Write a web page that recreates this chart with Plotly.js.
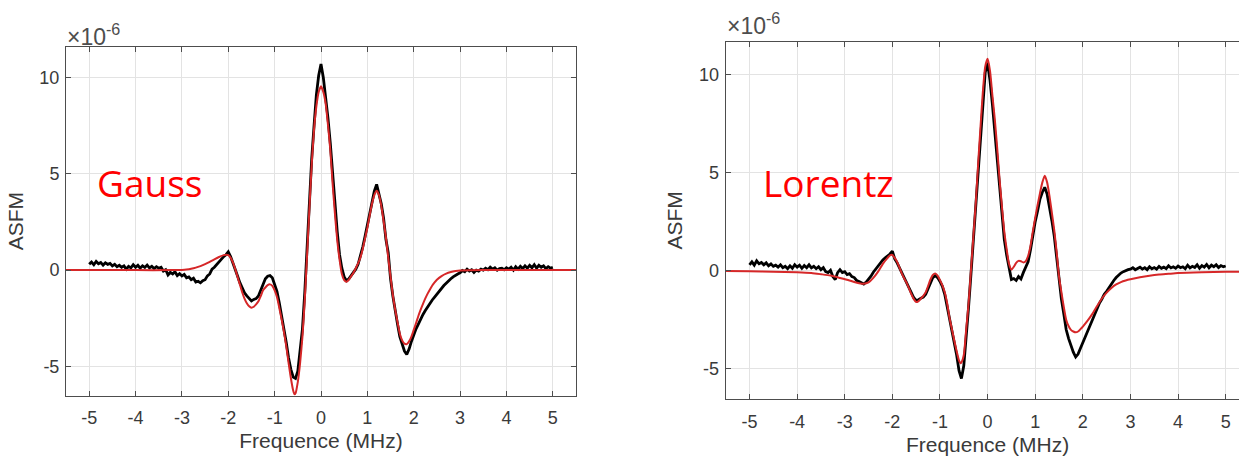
<!DOCTYPE html>
<html>
<head>
<meta charset="utf-8">
<script src="https://cdn.plot.ly/plotly-3.0.1.min.js"></script>
<style>
html, body { margin: 0; padding: 0; overflow: hidden; background: #ffffff; }
#chart { width: 1260px; height: 457px; }
</style>
</head>
<body>
<div id="chart"></div>
<script>
// ---------------- DATA ----------------
// Gauss panel: measured (black) trace, frequency in MHz, ASFM in units of 1e-6
const gaussMeasX = [
-5.00,-4.95,-4.90,-4.85,-4.80,-4.75,-4.70,-4.65,-4.60,-4.55,-4.50,-4.45,-4.40,-4.35,-4.30,-4.25,-4.20,-4.15,-4.10,-4.05,
-4.00,-3.95,-3.90,-3.85,-3.80,-3.75,-3.70,-3.65,-3.60,-3.55,-3.50,-3.45,-3.40,-3.35,-3.30,-3.25,-3.20,-3.15,-3.10,-3.05,
-3.00,-2.95,-2.90,-2.85,-2.80,-2.75,-2.70,-2.65,-2.60,-2.55,-2.50,-2.45,-2.40,-2.35,-2.30,-2.25,-2.20,-2.15,-2.10,-2.05,
-2.00,-1.95,-1.90,-1.85,-1.80,-1.75,-1.70,-1.65,-1.60,-1.55,-1.50,-1.45,-1.40,-1.35,-1.30,-1.25,-1.20,-1.15,-1.10,-1.05,
-1.00,-0.95,-0.90,-0.85,-0.80,-0.75,-0.70,-0.65,-0.60,-0.55,-0.50,-0.45,-0.40,-0.35,-0.30,-0.25,-0.20,-0.15,-0.10,-0.05,
0.00,0.05,0.10,0.15,0.20,0.25,0.30,0.35,0.40,0.45,0.50,0.55,0.60,0.65,0.70,0.75,0.80,0.85,0.90,0.95,
1.00,1.05,1.10,1.15,1.20,1.25,1.30,1.35,1.40,1.45,1.50,1.55,1.60,1.65,1.70,1.75,1.80,1.85,1.90,1.95,
2.00,2.05,2.10,2.15,2.20,2.25,2.30,2.35,2.40,2.45,2.50,2.55,2.60,2.65,2.70,2.75,2.80,2.85,2.90,2.95,
3.00,3.05,3.10,3.15,3.20,3.25,3.30,3.35,3.40,3.45,3.50,3.55,3.60,3.65,3.70,3.75,3.80,3.85,3.90,3.95,
4.00,4.05,4.10,4.15,4.20,4.25,4.30,4.35,4.40,4.45,4.50,4.55,4.60,4.65,4.70,4.75,4.80,4.85,4.90,4.95,5.00];
const gaussMeasY = [
0.30,0.42,0.28,0.45,0.33,0.40,0.26,0.38,0.30,0.35,0.22,0.30,0.18,0.25,0.15,0.22,0.05,0.20,0.12,0.28,
0.15,0.25,0.10,0.22,0.14,0.26,0.12,0.20,0.08,0.18,0.10,0.15,-0.05,0.02,-0.25,-0.12,-0.20,-0.08,-0.28,-0.18,
-0.30,-0.22,-0.40,-0.35,-0.50,-0.42,-0.62,-0.58,-0.66,-0.55,-0.50,-0.30,-0.20,0.05,0.15,0.30,0.45,0.55,0.70,0.80,
0.95,0.70,0.40,0.05,-0.30,-0.65,-0.95,-1.18,-1.34,-1.50,-1.60,-1.52,-1.48,-1.34,-1.05,-0.75,-0.45,-0.32,-0.28,-0.40,
-0.70,-1.10,-1.70,-2.35,-3.05,-3.75,-4.55,-5.15,-5.55,-5.62,-5.25,-4.30,-3.05,-1.15,1.30,3.50,5.80,7.50,9.10,10.10,
10.70,10.00,9.00,7.90,6.60,5.00,3.40,2.00,0.80,0.10,-0.35,-0.55,-0.45,-0.30,-0.15,0.05,0.30,0.70,1.20,1.75,
2.35,3.00,3.60,4.10,4.45,4.00,3.45,2.70,1.60,0.90,-0.45,-1.35,-2.20,-2.80,-3.45,-3.90,-4.20,-4.38,-4.10,-3.70,
-3.35,-3.05,-2.80,-2.50,-2.30,-2.10,-1.90,-1.70,-1.55,-1.40,-1.25,-1.05,-0.92,-0.80,-0.68,-0.55,-0.45,-0.35,-0.25,-0.20,
-0.14,-0.02,-0.08,0.05,-0.05,0.02,-0.12,0.00,-0.05,0.05,0.00,0.10,0.02,0.15,0.05,0.12,0.00,0.08,0.10,0.02,
0.12,0.05,0.15,0.00,0.18,0.05,0.20,0.08,0.22,0.10,0.25,0.12,0.28,0.10,0.25,0.15,0.22,0.08,0.18,0.10,0.15];

// Gauss panel: fitted (red) curve
const gaussFitX = [
-5.50,-4.00,-3.20,-3.00,-2.90,-2.80,-2.70,-2.60,-2.50,-2.40,-2.30,-2.20,-2.10,-2.05,-2.00,-1.95,-1.90,-1.85,-1.80,-1.75,
-1.70,-1.65,-1.60,-1.55,-1.50,-1.45,-1.40,-1.35,-1.30,-1.25,-1.20,-1.15,-1.10,-1.05,-1.00,-0.95,-0.90,-0.85,-0.80,-0.75,
-0.70,-0.65,-0.60,-0.57,-0.55,-0.50,-0.45,-0.40,-0.35,-0.30,-0.25,-0.20,-0.15,-0.10,-0.05,0.00,0.05,0.10,0.15,0.20,
0.25,0.30,0.35,0.40,0.45,0.50,0.55,0.60,0.65,0.70,0.75,0.80,0.85,0.90,0.95,1.00,1.05,1.10,1.15,1.20,
1.25,1.30,1.35,1.40,1.45,1.50,1.55,1.60,1.65,1.70,1.75,1.80,1.85,1.90,1.95,2.00,2.05,2.10,2.15,2.20,
2.25,2.30,2.35,2.40,2.45,2.50,2.60,2.70,2.80,2.90,3.00,3.50,5.50];
const gaussFitY = [
0.00,0.00,0.00,0.01,0.03,0.07,0.13,0.21,0.31,0.43,0.56,0.68,0.78,0.80,0.78,0.65,0.40,0.05,-0.35,-0.75,
-1.15,-1.48,-1.72,-1.88,-1.95,-1.90,-1.78,-1.62,-1.35,-1.05,-0.90,-0.78,-0.74,-0.82,-1.05,-1.40,-1.95,-2.55,-3.20,-3.95,
-4.80,-5.60,-6.25,-6.45,-6.40,-5.80,-4.80,-3.45,-1.55,0.80,3.20,5.50,7.30,8.50,9.25,9.55,9.25,8.65,7.55,6.25,
4.50,2.95,1.55,0.55,-0.20,-0.52,-0.60,-0.50,-0.32,-0.14,0.10,0.35,0.65,1.10,1.65,2.20,2.85,3.45,3.90,4.12,
3.90,3.35,2.55,1.70,0.65,-0.35,-1.30,-2.05,-2.70,-3.30,-3.65,-3.82,-3.84,-3.70,-3.45,-3.10,-2.75,-2.38,-2.05,-1.75,
-1.47,-1.22,-1.00,-0.80,-0.64,-0.50,-0.31,-0.18,-0.10,-0.05,-0.02,0.00,0.00];

// Lorentz panel: measured (black) trace
const lorentzMeasX = gaussMeasX.slice();
const lorentzMeasY = [
0.30,0.45,0.28,0.50,0.35,0.42,0.30,0.40,0.25,0.35,0.22,0.28,0.18,0.30,0.15,0.22,0.10,0.25,0.12,0.30,
0.18,0.28,0.12,0.26,0.15,0.30,0.14,0.22,0.10,0.20,0.05,0.15,-0.05,-0.10,0.02,-0.30,-0.45,-0.10,0.05,-0.10,
-0.05,-0.20,-0.15,-0.30,-0.35,-0.50,-0.55,-0.62,-0.68,-0.58,-0.45,-0.28,-0.08,0.08,0.25,0.45,0.55,0.65,0.75,0.85,
1.00,0.60,0.40,0.15,-0.10,-0.35,-0.60,-0.88,-1.15,-1.38,-1.52,-1.48,-1.40,-1.35,-1.20,-0.90,-0.60,-0.35,-0.25,-0.35,
-0.55,-0.80,-1.20,-1.80,-2.55,-3.10,-3.70,-4.30,-5.10,-5.50,-4.85,-3.10,-1.87,-0.20,1.55,3.15,5.10,6.95,8.75,10.10,
10.60,9.70,8.50,7.20,5.80,4.30,3.00,1.60,0.80,0.10,-0.45,-0.40,-0.50,-0.30,-0.42,-0.10,0.15,0.45,1.05,1.90,
2.50,3.05,3.65,4.00,4.25,3.90,3.30,2.55,1.75,0.70,-0.50,-1.45,-2.20,-3.00,-3.45,-3.85,-4.15,-4.40,-4.25,-3.95,
-3.65,-3.40,-3.10,-2.80,-2.55,-2.25,-1.95,-1.65,-1.45,-1.20,-1.05,-0.85,-0.65,-0.50,-0.35,-0.22,-0.12,-0.05,0.02,0.05,
0.08,0.15,0.05,0.12,0.18,0.08,0.15,0.05,0.20,0.10,0.16,0.08,0.22,0.12,0.18,0.10,0.25,0.14,0.20,0.12,
0.24,0.15,0.20,0.10,0.28,0.14,0.22,0.16,0.30,0.12,0.26,0.18,0.32,0.15,0.28,0.20,0.30,0.16,0.26,0.20,0.24];

// Lorentz panel: fitted (red) curve
const lorentzFitX = [
-5.50,-5.00,-4.50,-4.00,-3.70,-3.50,-3.30,-3.10,-2.90,-2.80,-2.70,-2.60,-2.50,-2.40,-2.30,-2.20,-2.10,-2.05,-2.00,-1.95,
-1.90,-1.85,-1.80,-1.75,-1.70,-1.65,-1.60,-1.55,-1.50,-1.45,-1.40,-1.35,-1.30,-1.25,-1.20,-1.15,-1.10,-1.05,-1.00,-0.95,
-0.90,-0.85,-0.80,-0.75,-0.70,-0.65,-0.60,-0.57,-0.55,-0.50,-0.45,-0.40,-0.35,-0.30,-0.25,-0.20,-0.15,-0.10,-0.05,0.00,
0.05,0.10,0.15,0.20,0.25,0.30,0.35,0.40,0.45,0.50,0.55,0.60,0.65,0.70,0.75,0.80,0.85,0.90,0.95,1.00,
1.05,1.10,1.15,1.20,1.25,1.30,1.35,1.40,1.45,1.50,1.55,1.60,1.65,1.70,1.75,1.80,1.85,1.90,1.95,2.00,
2.10,2.20,2.30,2.40,2.50,2.60,2.70,2.80,2.90,3.00,3.20,3.40,3.60,3.80,4.00,4.50,5.00,5.50];
const lorentzFitY = [
-0.02,-0.03,-0.05,-0.08,-0.12,-0.18,-0.25,-0.37,-0.50,-0.58,-0.64,-0.67,-0.60,-0.37,-0.05,0.35,0.65,0.78,0.80,0.65,
0.45,0.15,-0.15,-0.40,-0.62,-0.90,-1.20,-1.45,-1.60,-1.55,-1.42,-1.28,-1.10,-0.78,-0.45,-0.22,-0.15,-0.25,-0.48,-0.75,
-1.10,-1.65,-2.40,-2.98,-3.55,-4.10,-4.58,-4.72,-4.68,-4.30,-3.00,-1.70,0.00,1.70,3.40,5.40,7.30,9.10,10.40,10.80,
10.20,8.95,7.75,6.30,4.70,3.30,2.00,1.10,0.35,0.05,0.20,0.40,0.50,0.48,0.42,0.48,0.75,1.25,2.00,2.70,
3.35,3.95,4.50,4.84,4.50,3.80,2.95,2.05,0.95,-0.30,-1.10,-1.85,-2.50,-2.82,-3.02,-3.10,-3.14,-3.10,-2.98,-2.85,
-2.55,-2.20,-1.80,-1.42,-1.12,-0.88,-0.70,-0.58,-0.50,-0.44,-0.34,-0.26,-0.20,-0.16,-0.12,-0.08,-0.06,-0.05];

// Tick values / labels
const xTicks = [-5,-4,-3,-2,-1,0,1,2,3,4,5];
const yTicks = [-5,0,5,10];
const panelLabels = ['Gauss','Lorentz'];
const xTitle = 'Frequence (MHz)';
const yTitle = 'ASFM';
const expLabel = '\u00d710<sup>-6</sup>';

// ---------------- LAYOUT ----------------
const W = 1260, H = 457;
const px = v => v / W;          // pixel x -> paper
const py = v => (H - v) / H;    // pixel y (from top) -> paper

const axisColor = '#4d4d4d';
const gridColor = '#e3e3e3';
const tickFont = {family: 'Liberation Sans, Arial, sans-serif', size: 18, color: '#3a3a3a'};
const titleFont = {family: 'Liberation Sans, Arial, sans-serif', size: 21, color: '#3a3a3a'};
const expFont = {family: 'Liberation Sans, Arial, sans-serif', size: 23, color: '#4d4d4d'};

function xAxis(domain, anchor) {
  return {
    domain: domain, anchor: anchor, range: [-5.5, 5.5],
    tickvals: xTicks, ticktext: xTicks.map(String),
    ticks: 'inside', ticklen: 5, tickcolor: axisColor, tickwidth: 1,
    showline: true, linecolor: axisColor, linewidth: 1, mirror: 'ticks',
    showgrid: true, gridcolor: gridColor, gridwidth: 1, zeroline: false,
    tickfont: tickFont, ticklabelstandoff: 6,
    title: {text: xTitle, font: titleFont, standoff: 6}
  };
}
function yAxis(domain, anchor, range) {
  return {
    domain: domain, anchor: anchor, range: range,
    tickvals: yTicks, ticktext: yTicks.map(String),
    ticks: 'inside', ticklen: 5, tickcolor: axisColor, tickwidth: 1,
    showline: true, linecolor: axisColor, linewidth: 1, mirror: 'ticks',
    showgrid: true, gridcolor: gridColor, gridwidth: 1, zeroline: false,
    tickfont: tickFont, ticklabelstandoff: 2,
    title: {text: yTitle, font: titleFont, standoff: 10}
  };
}

const traces = [
  {x: gaussMeasX, y: gaussMeasY, xaxis: 'x', yaxis: 'y', mode: 'lines',
   line: {color: '#000000', width: 2.8}, hoverinfo: 'skip'},
  {x: gaussFitX, y: gaussFitY, xaxis: 'x', yaxis: 'y', mode: 'lines',
   line: {color: '#d62728', width: 2, shape: 'spline', smoothing: 0.6}, hoverinfo: 'skip'},
  {x: lorentzMeasX, y: lorentzMeasY, xaxis: 'x2', yaxis: 'y2', mode: 'lines',
   line: {color: '#000000', width: 2.8}, hoverinfo: 'skip'},
  {x: lorentzFitX, y: lorentzFitY, xaxis: 'x2', yaxis: 'y2', mode: 'lines',
   line: {color: '#d62728', width: 2, shape: 'spline', smoothing: 0.6}, hoverinfo: 'skip'}
];

const layout = {
  width: W, height: H,
  margin: {l: 0, r: 0, t: 0, b: 0},
  paper_bgcolor: '#ffffff', plot_bgcolor: '#ffffff',
  showlegend: false,
  xaxis: xAxis([px(66), px(576)], 'y'),
  yaxis: yAxis([py(395.7), py(46.7)], 'x', [-6.52, 11.6]),
  xaxis2: xAxis([px(725.7), px(1249.5)], 'y2'),
  yaxis2: yAxis([py(399), py(41.7)], 'x2', [-6.54, 11.67]),
  annotations: [
    {xref: 'paper', yref: 'paper', x: px(65), y: py(35), xanchor: 'left', yanchor: 'middle',
     text: expLabel, showarrow: false, font: expFont},
    {xref: 'paper', yref: 'paper', x: px(725), y: py(24), xanchor: 'left', yanchor: 'middle',
     text: expLabel, showarrow: false, font: expFont},
    {xref: 'paper', yref: 'paper', x: px(95), y: py(183), xanchor: 'left', yanchor: 'middle',
     text: panelLabels[0], showarrow: false, font: {family: 'Open Sans, Noto Sans, sans-serif', size: 37, color: '#ff0000'}},
    {xref: 'paper', yref: 'paper', x: px(761), y: py(183), xanchor: 'left', yanchor: 'middle',
     text: panelLabels[1], showarrow: false, font: {family: 'Open Sans, Noto Sans, sans-serif', size: 37, color: '#ff0000'}}
  ]
};

Plotly.newPlot('chart', traces, layout, {staticPlot: true, displayModeBar: false});
</script>
</body>
</html>
